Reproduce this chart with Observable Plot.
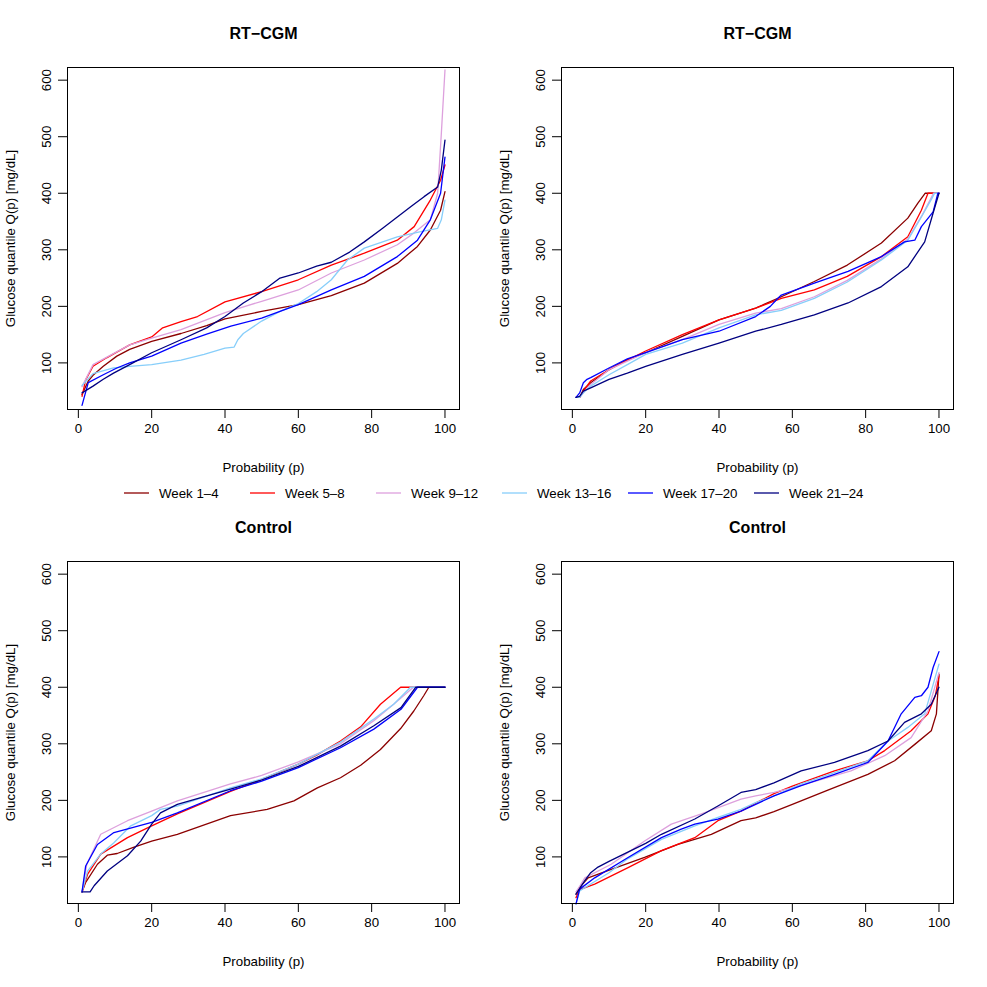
<!DOCTYPE html>
<html><head><meta charset="utf-8">
<script src="https://cdn.jsdelivr.net/npm/d3@7"></script>
<script src="https://cdn.jsdelivr.net/npm/@observablehq/plot@0.6"></script>
<style>
body{margin:0;background:#fff;font-family:"Liberation Sans",Arial,Helvetica,sans-serif;}
#root{position:relative;width:987px;height:987px;background:#fff;}
#root > svg, #root > div{position:absolute;}
</style></head><body><div id="root"></div>
<script>
const weeks = ["Week 1–4","Week 5–8","Week 9–12","Week 13–16","Week 17–20","Week 21–24"];
const colors = ["#8B0000","#FF0000","#DDA0DD","#87CEFA","#0000FF","#000080"];
const xTicks = [0,20,40,60,80,100];
const yTicks = [100,200,300,400,500,600];
const titles = ["RT−CGM","RT−CGM","Control","Control"];
const xLabel = "Probability (p)";
const yLabel = "Glucose quantile Q(p) [mg/dL]";

// Panel A: RT-CGM (left) — [p, Q(p)]
const a_w1 = [[1,44],[2.7,68],[4,78],[6.8,94],[10.5,112],[14,124],[20,138],[28,152],[35,166],[40,178],[50,191],[60,203],[69,219],[78,241],[87,276],[92.5,306],[96,335],[98.8,370],[100,403]];
const a_w2 = [[1,41],[2,70],[4,94],[7.7,109],[14,132],[20,146],[23,162],[28,173],[32.5,182],[40,208],[50,226],[60,247],[69,273],[78,294],[87,317],[91.6,341],[96,388],[98.8,423],[100,450]];
const a_w3 = [[1,58],[4,97],[14,132],[20,144],[28,159],[40,189],[50,209],[60,229],[69,259],[78,282],[87,309],[91.6,330],[96,353],[98,400],[99,505],[100,618]];
const a_w4 = [[1,60],[4,81],[9.6,91],[14,94],[20,97],[28,105],[34.3,115],[40,126],[42.5,128],[43.5,141],[45,152],[50,174],[55,191],[60,205],[65,226],[69,247],[73.4,282],[78,303],[87,323],[93.4,332],[98,338],[99,353],[100,388]];
const a_w5 = [[1,25],[2.7,65],[6.8,79],[10.5,91],[14,100],[20,112],[28,135],[35,151],[41.6,165],[50,179],[60,203],[69,229],[78,253],[87,288],[92.5,317],[96,353],[98.8,400],[100,464]];
const a_w6 = [[1,47],[4,59],[6.8,71],[9.6,82],[14,97],[20,118],[28,141],[35,162],[40,182],[45,206],[50,226],[55,250],[60,259],[65,271],[69,278],[74,296],[78,314],[83,338],[87,358],[91,378],[94.3,394],[98,411],[99,441],[100,494]];

// Panel B: RT-CGM (right)
const b_w1 = [[1,39],[2,39],[3,53],[5,65],[10,88],[15,106],[20,118],[30,147],[40,176],[50,197],[57,217],[66,244],[75,273],[84.3,312],[91.5,356],[94.2,382],[96.2,400],[100,400]];
const b_w2 = [[1,39],[2,39],[3,50],[5,68],[10,88],[15,105],[20,121],[30,150],[40,176],[50,197],[57,214],[66,229],[75,253],[84.3,288],[91.5,323],[95.2,370],[97,400],[100,400]];
const b_w3 = [[1,39],[2,39],[3,47],[5,62],[10,88],[15,103],[20,118],[30,141],[40,168],[50,188],[57,196],[66,217],[75,246],[84.3,284],[91.5,319],[95.2,359],[97.8,391],[98.5,400],[100,400]];
const b_w4 = [[1,39],[2,39],[3,47],[5,59],[10,79],[15,97],[20,115],[30,135],[40,162],[50,185],[57,193],[66,214],[75,243],[84.3,282],[91.5,317],[95.2,358],[98,390],[98.8,400],[100,400]];
const b_w5 = [[1,39],[2,47],[3,65],[4,71],[5,74],[10,91],[15,107],[20,118],[30,141],[40,156],[50,182],[54,200],[56,214],[57,220],[66,241],[75.2,262],[84.3,288],[90.6,314],[93.4,317],[95.2,341],[98.4,367],[99.7,400],[100,400]];
const b_w6 = [[1,39],[2,41],[3,50],[5,56],[10,71],[15,82],[20,94],[30,115],[40,135],[50,156],[57,168],[66,185],[75.2,206],[84.3,235],[91.5,270],[96.1,314],[98.4,365],[100,400]];

// Panel C: Control (left)
const c_w1 = [[1,38],[2,55],[5.2,87],[7.9,103],[10.6,106],[15,117],[20,128],[27,140],[41.5,173],[51.5,184],[58.8,199],[65.2,222],[71.5,240],[77,262],[82.4,290],[87.9,327],[91.5,358],[94.2,385],[95.6,400],[100,400]];
const c_w2 = [[1,38],[2.5,69],[6.1,105],[13.4,134],[20,155],[27,176],[41.5,216],[50,237],[60,264],[65,280],[71.5,305],[77,330],[82.4,370],[87.9,400],[100,400]];
const c_w3 = [[1,38],[2.3,87],[6.1,140],[13.4,164],[20,181],[27,199],[41.5,229],[50,244],[60,268],[71.5,300],[80.6,341],[86,370],[91.4,400],[100,400]];
const c_w4 = [[1,38],[2.5,75],[6.1,105],[9.7,125],[14.3,155],[20,173],[22.4,184],[27,190],[41.5,222],[50,238],[60,264],[71.5,303],[80.6,344],[86,370],[90.6,400],[100,400]];
const c_w5 = [[1,38],[2,84],[5.2,122],[9.7,143],[20,161],[27,178],[41.5,217],[50,234],[60,258],[71.5,293],[80.6,326],[88,361],[92.5,400],[100,400]];
const c_w6 = [[1,38],[3.2,38],[4.3,49],[7.9,75],[13.4,102],[17,128],[20,158],[22.4,178],[27,193],[41.5,220],[50,236],[60,260],[71.5,296],[80.6,332],[88,364],[92,400],[100,400]];

// Panel D: Control (right)
const d_w1 = [[1,34],[2,46],[4.3,63],[10.6,78],[19.7,99],[28.8,122],[37.9,140],[46,164],[50,169],[55,180],[60,193],[69.7,218],[80.6,246],[87.9,270],[93.4,299],[97.9,323],[99.3,353],[100,423]];
const d_w2 = [[1,28],[2,42],[6.1,52],[15.2,81],[24.3,111],[33.4,134],[39.7,164],[46,181],[50,195],[55,212],[60,225],[71.5,252],[80.6,270],[85.2,288],[92.4,323],[97,353],[99,385],[100,420]];
const d_w3 = [[1,38],[2,48],[3.4,63],[10.6,87],[19.7,128],[27,158],[35.2,176],[46,202],[50,208],[55,214],[60,222],[76,252],[85.2,279],[92.4,311],[97,358],[100,426]];
const d_w4 = [[1,17],[2,40],[5,52],[10,72],[15.2,97],[24.3,131],[33.4,155],[39.7,170],[46,184],[50,196],[55,208],[62.4,229],[71.5,249],[80.6,270],[86.1,305],[91.5,329],[96.1,353],[100,441]];
const d_w5 = [[1,17],[2,43],[6.1,63],[15.2,99],[24.3,134],[29.7,149],[33.4,158],[39.7,167],[46,181],[50,193],[55,208],[62.4,226],[71.5,246],[80.6,267],[86.1,305],[89.7,353],[93.4,382],[95.2,385],[97,400],[98.4,435],[100,463]];
const d_w6 = [[1,34],[3.4,58],[5,72],[7,82],[10,92],[15,108],[20,124],[24.3,140],[33.4,167],[39.7,190],[46,214],[50,219],[55,231],[62.4,252],[71.5,267],[80.6,288],[86.1,305],[90.6,338],[95.2,353],[97.9,370],[100,400]];

const panels = [
  [a_w1,a_w2,a_w3,a_w4,a_w5,a_w6],
  [b_w1,b_w2,b_w3,b_w4,b_w5,b_w6],
  [c_w1,c_w2,c_w3,c_w4,c_w5,c_w6],
  [d_w1,d_w2,d_w3,d_w4,d_w5,d_w6]
];
const positions = [[0,0],[494,0],[0,494],[494,494]];
const font = '"Liberation Sans", Arial, Helvetica, sans-serif';
const fs = 13.3;
const root = document.getElementById("root");

panels.forEach((series, k) => {
  const rows = series.flatMap((s, i) => s.map(([p, q]) => ({p, q, week: weeks[i]})));
  const chart = Plot.plot({
    width: 493, height: 493,
    marginLeft: 67, marginRight: 34, marginTop: 67, marginBottom: 84,
    style: {fontFamily: font, fontSize: fs + "px", background: "transparent", color: "black"},
    x: {domain: [-2.96, 103.96]},
    y: {domain: [17.6, 622.4]},
    color: {domain: weeks, range: colors},
    marks: [
      Plot.line(rows, {x: "p", y: "q", z: "week", stroke: "week", strokeWidth: 1.3}),
      Plot.frame({stroke: "black", strokeWidth: 1}),
      Plot.axisX({ticks: xTicks, tickSize: 9, tickPadding: 5, label: null, fontSize: fs}),
      Plot.axisY({ticks: yTicks, tickSize: 9, tickPadding: 8, tickRotate: -90, label: null, fontSize: fs}),
      Plot.text([titles[k]], {text: d => d, frameAnchor: "top", lineAnchor: "middle", dy: -34, fontWeight: "bold", fontSize: 16}),
      Plot.text([xLabel], {text: d => d, frameAnchor: "bottom", lineAnchor: "middle", dy: 58, fontSize: fs}),
      Plot.text([yLabel], {text: d => d, frameAnchor: "left", textAnchor: "middle", lineAnchor: "middle", dx: -57, rotate: -90, fontSize: fs})
    ]
  });
  chart.style.left = positions[k][0] + "px";
  chart.style.top = positions[k][1] + "px";
  root.appendChild(chart);
});

// Legend
const legend = d3.select(root).append("svg")
  .attr("width", 987).attr("height", 24)
  .style("left", "0px").style("top", "481px")
  .style("font-family", font).style("font-size", fs + "px");
weeks.forEach((w, i) => {
  const x0 = 124 + 126 * i;
  legend.append("line").attr("x1", x0).attr("x2", x0 + 25).attr("y1", 12).attr("y2", 12)
    .attr("stroke", colors[i]).attr("stroke-width", 1.3);
  legend.append("text").attr("x", x0 + 35).attr("y", 12).attr("dy", "0.35em").text(w);
});
</script>
</body></html>
